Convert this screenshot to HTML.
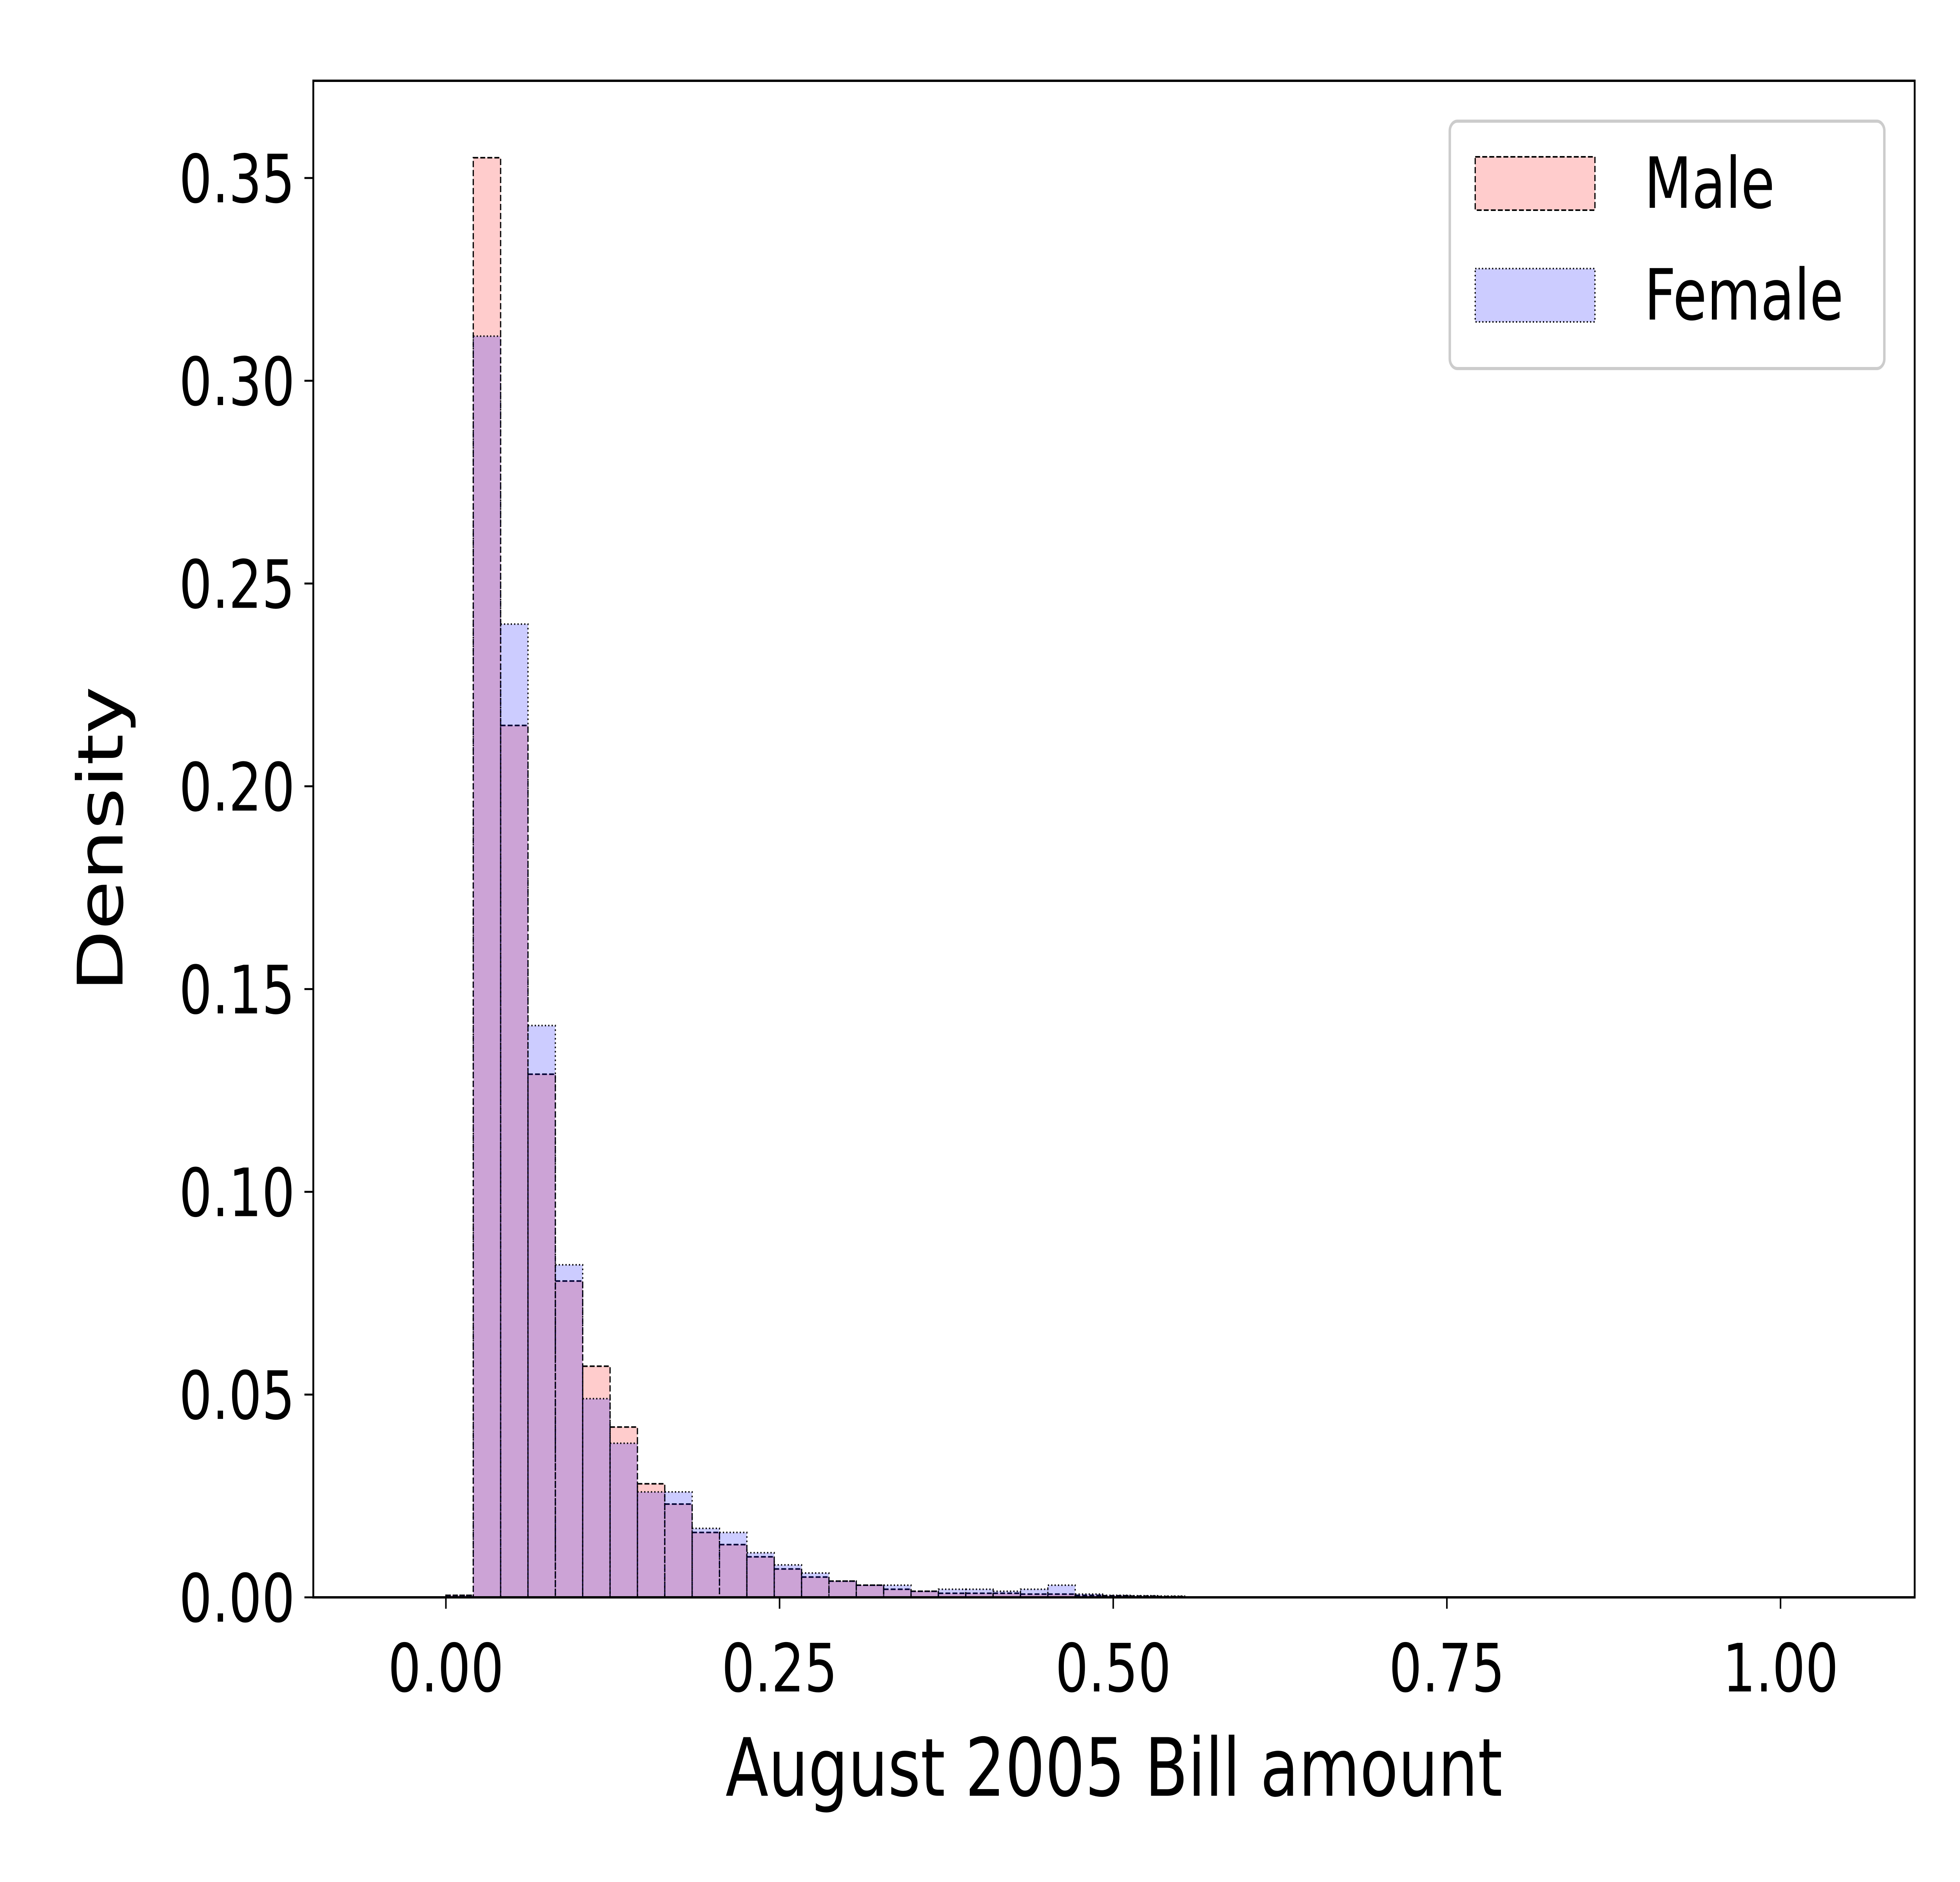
<!DOCTYPE html>
<html><head><meta charset="utf-8"><style>
html,body{margin:0;padding:0;background:#fff;width:100%;height:100%;overflow:hidden;}
svg{display:block;width:100vw;height:100vh;font-family:"DejaVu Sans","Liberation Sans",sans-serif;}
</style></head><body>
<svg id="chart" viewBox="0 0 6400 4800" preserveAspectRatio="none" xmlns="http://www.w3.org/2000/svg">
<rect width="6400" height="4800" fill="#fff"/>
<g id="bars"></g>
<g id="axes"></g>
<g>
<rect x="4734" y="309" width="1419" height="631" rx="25" fill="#fff" fill-opacity="0.8" stroke="#ccc" stroke-width="8"/>
<rect x="4817" y="400" width="391" height="136" fill="rgba(255,0,0,0.2)" stroke="#000" stroke-width="4" stroke-dasharray="16,7"/>
<text x="5369" y="530" font-size="180">Male</text>
<rect x="4817" y="685" width="391" height="136" fill="rgba(0,0,255,0.2)" stroke="#000" stroke-width="4" stroke-dasharray="4,7"/>
<text x="5369" y="815" font-size="180">Female</text>
</g>
</svg>
<script>
const binWidth = 0.0205;
const maleValues = [0.0005,0.355,0.215,0.129,0.078,0.057,0.042,0.028,0.023,0.016,0.013,0.010,0.007,0.005,0.004,0.003,0.002,0.0015,0.001,0.001,0.001,0.0008,0.0008,0.0005,0.0004,0.0003,0.0002];
const femaleValues = [0.0005,0.311,0.240,0.141,0.082,0.049,0.038,0.026,0.026,0.017,0.016,0.011,0.008,0.006,0.004,0.003,0.003,0.0015,0.002,0.002,0.0015,0.002,0.003,0.0008,0.0005,0.0004,0.0003];
const xTicks = [0,0.25,0.5,0.75,1.0];
const xTickLabels = ["0.00","0.25","0.50","0.75","1.00"];
const yTicks = [0,0.05,0.1,0.15,0.2,0.25,0.3,0.35];
const yTickLabels = ["0.00","0.05","0.10","0.15","0.20","0.25","0.30","0.35"];

const L=1023,R=6252,T=206,B=4074;
const xs = v => 1456 + v*(5814-1456);
const ys = v => 4074 - v*(4074-454)/0.35;
const NS="http://www.w3.org/2000/svg";
function mk(tag, attrs, parent){const e=document.createElementNS(NS,tag);for(const k in attrs)e.setAttribute(k,attrs[k]);parent.appendChild(e);return e;}
const bars=document.getElementById('bars'), axes=document.getElementById('axes');
function drawSeries(vals, fill, dash, name){
  vals.forEach((v,i)=>{
    const x0=xs(i*binWidth), x1=xs((i+1)*binWidth);
    const r=mk('rect',{x:x0,y:ys(v),width:x1-x0,height:B-ys(v),fill:fill,stroke:'#000','stroke-width':4,'stroke-dasharray':dash},bars);
    
    
  });
}
drawSeries(maleValues,'rgba(255,0,0,0.2)','16,7','male');
drawSeries(femaleValues,'rgba(0,0,255,0.2)','4,7','female');
const frame=mk('rect',{x:L,y:T,width:R-L,height:B-T,fill:'none',stroke:'#000','stroke-width':6},axes);


xTicks.forEach((t,i)=>{
  const x=xs(t);
  const l=mk('line',{x1:x,x2:x,y1:B,y2:B+29,stroke:'#000','stroke-width':5},axes);
  
  
  const tx=mk('text',{x:x,y:B+240,'font-size':170,'text-anchor':'middle'},axes);
  tx.textContent=xTickLabels[i];
  
  
});
yTicks.forEach((t,i)=>{
  const y=ys(t);
  const l=mk('line',{x1:L-29,x2:L,y1:y,y2:y,stroke:'#000','stroke-width':5},axes);
  
  
  const tx=mk('text',{x:L-60,y:y+62,'font-size':170,'text-anchor':'end'},axes);
  tx.textContent=yTickLabels[i];
  
  
});
const xl=mk('text',{x:(L+R)/2,y:4580,'font-size':205,'text-anchor':'middle'},axes);
xl.textContent='August 2005 Bill amount';


const yl=mk('text',{x:0,y:0,'font-size':205,'text-anchor':'middle',transform:'translate(400,2140) rotate(-90)'},axes);
yl.textContent='Density';


</script>
</body></html>
